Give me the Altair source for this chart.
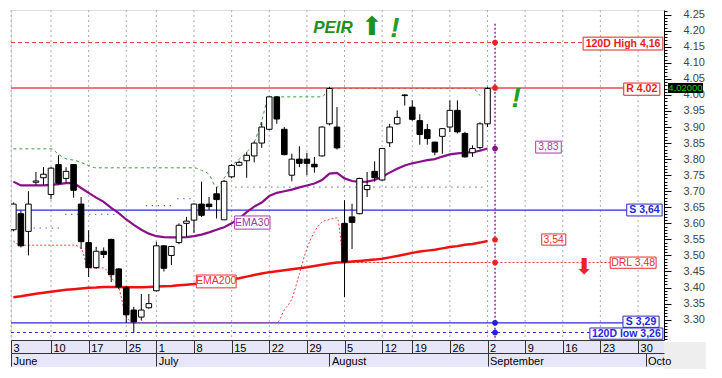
import json
import altair as alt
import pandas as pd

# ---------------- data (trading-day index: 0 = 3 June 2024) ----------------
day_index = list(range(64))
opens = [3.58, 3.63, 3.575, 3.728, 3.742, 3.69, 3.783, 3.74, 3.783, 3.66,
         3.54, 3.462, 3.513, 3.55, 3.458, 3.40, 3.33, 3.308, 3.337, 3.39,
         3.53, 3.50, 3.54, 3.60, 3.61, 3.66, 3.66, 3.692, 3.611, 3.745,
         3.781, 3.795, 3.81, 3.85, 3.893, 3.994, 3.893, 3.75, 3.80, 3.80,
         3.784, 3.81, 3.91, 3.90, 3.60, 3.62, 3.63, 3.705, 3.762, 3.735,
         3.851, 3.91, 3.998, 3.962, 3.92, 3.892, 3.853, 3.871, 3.90, 3.952,
         3.88, 3.82, 3.836, 3.91]
highs = [3.665, 3.64, 3.70, 3.76, 3.775, 3.775, 3.812, 3.775, 3.785, 3.682,
         3.578, 3.527, 3.525, 3.552, 3.46, 3.405, 3.34, 3.38, 3.38, 3.542,
         3.532, 3.53, 3.60, 3.62, 3.662, 3.73, 3.682, 3.713, 3.735, 3.785,
         3.795, 3.822, 3.855, 3.915, 3.995, 3.995, 3.90, 3.817, 3.84, 3.82,
         3.807, 3.902, 4.025, 3.962, 3.672, 3.661, 3.742, 3.76, 3.793, 3.835,
         3.91, 3.952, 4.002, 3.983, 3.94, 3.91, 3.855, 3.897, 3.983, 3.983,
         3.885, 3.843, 3.915, 4.025]
lows = [3.575, 3.525, 3.50, 3.72, 3.72, 3.675, 3.72, 3.727, 3.68, 3.52,
        3.433, 3.458, 3.492, 3.417, 3.396, 3.29, 3.26, 3.297, 3.334, 3.388,
        3.45, 3.47, 3.535, 3.557, 3.57, 3.62, 3.642, 3.615, 3.61, 3.74,
        3.778, 3.742, 3.79, 3.835, 3.89, 3.91, 3.812, 3.731, 3.775, 3.75,
        3.758, 3.808, 3.905, 3.83, 3.37, 3.52, 3.628, 3.682, 3.73, 3.733,
        3.838, 3.907, 3.967, 3.92, 3.845, 3.845, 3.812, 3.817, 3.885, 3.88,
        3.805, 3.807, 3.83, 3.90]
closes = [3.66, 3.53, 3.66, 3.732, 3.753, 3.772, 3.725, 3.762, 3.703, 3.543,
          3.462, 3.513, 3.503, 3.44, 3.402, 3.315, 3.293, 3.33, 3.35, 3.53,
          3.46, 3.528, 3.594, 3.607, 3.66, 3.625, 3.652, 3.674, 3.731, 3.78,
          3.79, 3.812, 3.85, 3.90, 3.994, 3.925, 3.814, 3.80, 3.787, 3.787,
          3.776, 3.90, 4.02, 3.835, 3.48, 3.603, 3.74, 3.718, 3.742, 3.833,
          3.90, 3.93, 4.0, 3.924, 3.877, 3.864, 3.822, 3.895, 3.952, 3.885,
          3.807, 3.833, 3.91, 4.02]
ema30 = [3.73, 3.718, 3.718, 3.718, 3.718, 3.72, 3.722, 3.725, 3.726, 3.71,
         3.695, 3.68, 3.667, 3.648, 3.632, 3.612, 3.595, 3.58, 3.568, 3.56,
         3.557, 3.556, 3.556, 3.557, 3.56, 3.565, 3.572, 3.58, 3.588, 3.60,
         3.615, 3.635, 3.652, 3.665, 3.685, 3.695, 3.70, 3.705, 3.712, 3.718,
         3.724, 3.735, 3.755, 3.757, 3.74, 3.732, 3.729, 3.73, 3.735, 3.745,
         3.758, 3.77, 3.78, 3.787, 3.792, 3.797, 3.80, 3.808, 3.815, 3.818,
         3.82, 3.822, 3.826, 3.833]
ema200 = [3.37, 3.373, 3.377, 3.381, 3.384, 3.387, 3.39, 3.393, 3.395, 3.397,
          3.399, 3.40, 3.402, 3.402, 3.402, 3.401, 3.401, 3.401, 3.402, 3.403,
          3.404, 3.405, 3.407, 3.409, 3.411, 3.413, 3.416, 3.419, 3.422, 3.425,
          3.429, 3.434, 3.439, 3.444, 3.448, 3.451, 3.454, 3.457, 3.46, 3.463,
          3.467, 3.471, 3.475, 3.478, 3.479, 3.481, 3.483, 3.485, 3.487, 3.49,
          3.494, 3.498, 3.503, 3.508, 3.512, 3.515, 3.518, 3.522, 3.526, 3.529,
          3.533, 3.536, 3.54, 3.545]
# upper (green dashed) channel, days 0..62
upper_days = list(range(63))
upper_vals = [3.832, 3.832, 3.832, 3.832, 3.832, 3.832, 3.815, 3.801, 3.797, 3.79,
              3.78, 3.773, 3.773, 3.773, 3.773, 3.773, 3.773, 3.773, 3.773, 3.773,
              3.773, 3.773, 3.773, 3.773, 3.773, 3.765, 3.752, 3.713, 3.74, 3.778,
              3.80, 3.822, 3.853, 3.92, 3.994, 3.994, 3.994, 3.994, 3.994, 3.994,
              3.994, 3.994, 4.02, 4.02, 4.02, 4.02, 4.02, 4.02, 4.02, 4.02,
              4.02, 4.02, 4.02, 4.02, 4.02, 4.02, 4.02, 4.02, 4.02, 4.02,
              4.02, 4.02, 3.998]
# lower (red dotted) channel, days 0..63
lower_vals = [3.545, 3.532, 3.532, 3.532, 3.532, 3.532, 3.532, 3.532, 3.532, 3.522,
              3.461, 3.461, 3.461, 3.43, 3.40, 3.31, 3.29, 3.29, 3.29, 3.29,
              3.29, 3.29, 3.29, 3.29, 3.29, 3.29, 3.29, 3.29, 3.29, 3.29,
              3.29, 3.29, 3.29, 3.29, 3.29, 3.29, 3.33, 3.365, 3.443, 3.521,
              3.573, 3.604, 3.612, 3.617, 3.478, 3.478, 3.478, 3.478, 3.478, 3.478,
              3.478, 3.478, 3.478, 3.478, 3.478, 3.478, 3.478, 3.478, 3.478, 3.478,
              3.478, 3.478, 3.478, 3.478]
# blue dotted step level
step_from = [1.9, 6.9, 17.6, 21.8, 29.5]
step_to = [6.2, 13.9, 21.2, 24.2, 62.6]
step_vals = [3.585, 3.628, 3.655, 3.677, 3.713]

# key levels
high120 = 4.163
resist = 4.022
support_hi = 3.641
drl = 3.478
support_lo = 3.29
low120 = 3.26
proj_day = 64
proj_red = [4.163, 4.022, 3.549, 3.478]
proj_purple = [3.833]
proj_blue = [3.29, 3.26]

# axis labels
week_ticks = [-0.3, 5, 10, 15, 19, 24, 29, 34, 39, 44, 49, 53, 58, 63, 68, 73, 78, 83]
week_labels = ['3', '10', '17', '25', '1', '8', '15', '22', '29', '5', '12', '19', '26',
               '2', '9', '16', '23', '30']
month_ticks = [-0.3, 19, 42, 63, 84]
month_labels = ['June', 'July', 'August', 'September', 'Octo']
price_ticks = [3.30, 3.35, 3.40, 3.45, 3.50, 3.55, 3.60, 3.65, 3.70, 3.75, 3.80, 3.85,
               3.90, 3.95, 4.00, 4.05, 4.10, 4.15, 4.20, 4.25]

# boxed labels
box_text = ['120D High 4,16', 'R 4.02', 'S 3,64', 'DRL 3,48', 'S 3,29', '120D low 3,26',
            '3,83', '3,54', 'EMA30', 'EMA200']
box_x1 = [75.7, 81.1, 81.5, 79.3, 81.0, 76.6, 69.4, 70.2, 29.4, 24.3]
box_x2 = [86.3, 85.9, 86.2, 85.4, 85.8, 86.3, 72.8, 73.4, 34.1, 29.6]
box_top = [4.180, 4.037, 3.660, 3.495, 3.311, 3.274, 3.856, 3.567, 3.623, 3.439]
box_bot = [4.140, 3.999, 3.623, 3.460, 3.276, 3.239, 3.819, 3.532, 3.582, 3.399]
box_col = ['#E82020', '#E82020', '#2828D0', '#E83030', '#2828D0', '#2828D0',
           '#A040A0', '#E83030', '#A040A0', '#E83030']
box_bold = [True, True, True, False, True, True, False, False, False, False]

# ---------------- scales & helpers ----------------
XD = [-0.315, 86.45]
YD = [3.2366, 4.2646]
xs = alt.Scale(domain=XD, nice=False, zero=False)
ys = alt.Scale(domain=YD, nice=False, zero=False)


def X(f, axis=None):
    return alt.X(f, type='quantitative', scale=xs, axis=axis)


def Y(f, axis=None):
    return alt.Y(f, type='quantitative', scale=ys, axis=axis)


def lab_expr(vals, labs):
    return f"{json.dumps(labs)}[indexof({json.dumps(vals)}, datum.value)]"


day_axis = alt.Axis(orient='bottom', values=week_ticks, labelExpr=lab_expr(week_ticks, week_labels),
                    tickSize=13, tickColor='#333333', domainColor='#333333', labelAlign='left',
                    labelBaseline='top', labelPadding=-11, labelOffset=2, labelFontSize=11,
                    labelColor='black', title=None, grid=False, labelFlush=False,
                    labelOverlap=False, zindex=1)
month_axis = alt.Axis(orient='bottom', offset=13, values=month_ticks,
                      labelExpr=lab_expr(month_ticks, month_labels),
                      tickSize=13, tickColor='#333333', domainColor='#333333', labelAlign='left',
                      labelBaseline='top', labelPadding=-11, labelOffset=2, labelFontSize=11,
                      labelColor='black', title=None, grid=False, labelFlush=False,
                      labelOverlap=False, zindex=1)
price_axis = alt.Axis(orient='right', values=price_ticks, format='.2f', tickSize=7,
                      tickColor='black', domainColor='black', labelColor='#444444',
                      labelFontSize=11, labelPadding=12, title=None, grid=False,
                      labelFlush=False, labelOverlap=False)
minor_axis = alt.Axis(orient='right', values=[round(3.24 + 0.01 * k, 2) for k in range(103)],
                      labels=False, tickSize=3, tickColor='black', domain=False, title=None,
                      grid=False)

df = pd.DataFrame({'i': day_index, 'open': opens, 'high': highs, 'low': lows,
                   'close': closes, 'ema30': ema30, 'ema200': ema200,
                   'lower': lower_vals})
up_df = pd.DataFrame({'i': upper_days, 'v': upper_vals})

layers = []

# bottom axis band + corner
band_df = pd.DataFrame({'x1': [XD[0], XD[1]], 'x2': [XD[1], 92.0],
                        'y1': [YD[0], YD[0] - 2 / 321], 'y2': [YD[0] - 27 / 321, YD[0] - 29 / 321],
                        'c': ['#E6E6F8', '#EEEEEE']})
layers.append(alt.Chart(band_df).mark_rect().encode(
    x=X('x1', month_axis), x2='x2', y=Y('y1', minor_axis), y2='y2',
    fill=alt.Fill('c:N', scale=None)))

# vertical week grid
layers.append(alt.Chart(pd.DataFrame({'w': week_ticks})).mark_rule(
    color='#A8A8B8', strokeDash=[2, 3], strokeWidth=1).encode(x=X('w')))

# blue dotted steps
layers.append(alt.Chart(pd.DataFrame({'a': step_from, 'b': step_to, 'v': step_vals})).mark_rule(
    color='#4040E0', strokeDash=[1, 5], strokeWidth=1.2).encode(x=X('a'), x2='b', y=Y('v')))


def hline(v, x0, x1, color, dash=None, width=1.0):
    kw = dict(color=color, strokeWidth=width)
    if dash:
        kw['strokeDash'] = dash
    d = pd.DataFrame({'a': [x0], 'b': [x1], 'v': [v]})
    return alt.Chart(d).mark_rule(**kw).encode(x=X('a'), x2='b', y=Y('v'))


layers.append(hline(high120, XD[0], box_x1[0], '#F03030', [4, 3], 1))
layers.append(hline(support_hi, XD[0], box_x1[2], '#2A2AE0', None, 1.2))
layers.append(hline(support_lo, XD[0], box_x1[4], '#2A2AE0', None, 1.2))
layers.append(hline(low120, XD[0], box_x1[5], '#2A2AE0', [3, 3], 1.2))
layers.append(hline(drl, 44, box_x1[3], '#F04040', [2, 2], 1))

# channels
layers.append(alt.Chart(up_df).mark_line(color='#3C9A3C', strokeDash=[3, 3], strokeWidth=1,
                                         interpolate='monotone').encode(x=X('i'), y=Y('v')))
layers.append(alt.Chart(df).mark_line(color='#F04040', strokeDash=[2, 2], strokeWidth=1,
                                      interpolate='monotone').encode(x=X('i'), y=Y('lower')))
layers.append(hline(resist, XD[0], box_x1[1], '#E84A55', None, 1.5))

# EMAs
layers.append(alt.Chart(df).mark_line(color='#F01010', strokeWidth=2.5).encode(
    x=X('i'), y=Y('ema200')))
layers.append(alt.Chart(df).mark_line(color='#8A108A', strokeWidth=2.2).encode(
    x=X('i'), y=Y('ema30')))

# candles
layers.append(alt.Chart(df).mark_rule(color='black', strokeWidth=1, clip=True).encode(
    x=X('i', day_axis), y=Y('low', price_axis), y2='high'))
layers.append(alt.Chart(df).transform_calculate(
    x1='datum.i - 0.37', x2='datum.i + 0.37',
    blo='min(datum.open, datum.close)', bhi='max(datum.open, datum.close)',
    fc="datum.close < datum.open ? 'black' : 'white'"
).mark_rect(stroke='black', strokeWidth=1, clip=True).encode(
    x=X('x1:Q'), x2='x2:Q', y=Y('blo:Q'), y2='bhi:Q', fill=alt.Fill('fc:N', scale=None)))

# projection day marker
layers.append(alt.Chart(pd.DataFrame({'i': [proj_day], 'a': [4.222], 'b': [YD[0]]})).mark_rule(
    color='#A020A0', strokeDash=[2, 2], strokeWidth=1.5).encode(x=X('i'), y=Y('a'), y2='b'))
for vals, col in [(proj_red, '#F02020'), (proj_purple, '#8A108A'), (proj_blue, '#2020E0')]:
    layers.append(alt.Chart(pd.DataFrame({'i': [proj_day] * len(vals), 'v': vals})).mark_point(
        filled=True, size=32, color=col, opacity=1).encode(x=X('i'), y=Y('v')))

# boxed labels
bx = pd.DataFrame({'t': box_text, 'x1': box_x1, 'x2': box_x2, 'y1': box_top, 'y2': box_bot,
                   'c': box_col, 'b': box_bold})
bx['xc'] = (bx['x1'] + bx['x2']) / 2
bx['yc'] = (bx['y1'] + bx['y2']) / 2
layers.append(alt.Chart(bx).mark_rect(fill='white', strokeWidth=1).encode(
    x=X('x1'), x2='x2', y=Y('y1'), y2='y2', stroke=alt.Stroke('c:N', scale=None)))
layers.append(alt.Chart(bx[bx['b']]).mark_text(fontSize=10.5, fontWeight='bold', baseline='middle').encode(
    x=X('xc'), y=Y('yc'), text='t:N', color=alt.Color('c:N', scale=None)))
layers.append(alt.Chart(bx[~bx['b']]).mark_text(fontSize=10.5, baseline='middle').encode(
    x=X('xc'), y=Y('yc'), text='t:N', color=alt.Color('c:N', scale=None)))


def note(x, y, txt, **style):
    d = pd.DataFrame({'x': [x], 'y': [y], 't': [txt]})
    return alt.Chart(d).mark_text(baseline='middle', **style).encode(x=X('x'), y=Y('y'), text='t:N')


layers.append(note(42.47, 4.2085, 'PEIR', fontSize=17, fontWeight='bold', fontStyle='italic',
                   color='#1E8F22'))
layers.append(note(47.65, 4.211, '⬆', fontSize=26, font='DejaVu Sans', color='#1E8F22'))
layers.append(note(50.7, 4.205, '!', fontSize=28, fontWeight='bold', fontStyle='italic',
                   color='#22A022'))
layers.append(note(66.8, 3.987, '!', fontSize=28, fontWeight='bold', fontStyle='italic',
                   color='#22A022'))
layers.append(note(75.8, 3.464, '⬇', fontSize=22, font='DejaVu Sans', color='#F02020'))

# last price tag
tag = pd.DataFrame({'x1': [86.98], 'x2': [91.63], 'y1': [4.037], 'y2': [4.006]})
layers.append(alt.Chart(tag).mark_rect(fill='black').encode(x=X('x1'), x2='x2', y=Y('y1'), y2='y2'))
layers.append(note(89.3, 4.0215, '4.02000', fontSize=9.5, color='#00D000'))

chart = alt.layer(*layers).resolve_axis(x='independent', y='independent').properties(
    width=653, height=330, padding=0, background='white'
).configure_view(fill='#E6E6F8', strokeWidth=0).configure(font='Liberation Sans')

chart.save('out.html', embed_options={'renderer': 'svg', 'actions': False})
